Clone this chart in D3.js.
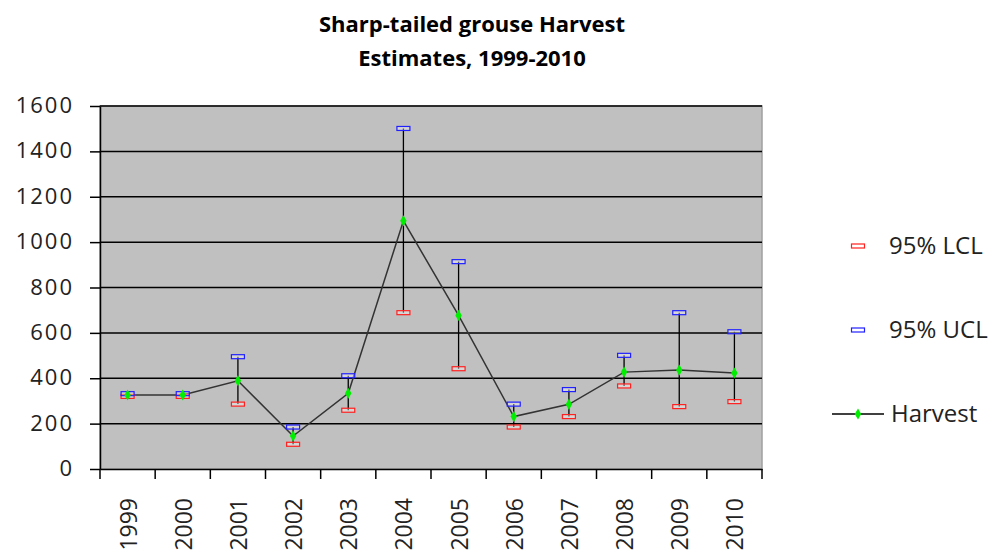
<!DOCTYPE html>
<html><head><meta charset="utf-8">
<script src="https://cdn.jsdelivr.net/npm/d3@7"></script>
<style>body{margin:0;background:#fff}text{font-family:"Open Sans","Noto Sans",sans-serif}</style>
</head><body><svg id="c" width="995" height="556"></svg>
<script>
const years = ["1999","2000","2001","2002","2003","2004","2005","2006","2007","2008","2009","2010"];
const harvest = [326,326,389,145,334,1094,677,231,285,427,436,423];
const lcl = [320,320,286,109,259,689,442,185,231,366,275,297];
const ucl = [332,332,495,185,411,1501,914,286,350,501,689,605];
const yTicks = [0,200,400,600,800,1000,1200,1400,1600];
const titleLines = ["Sharp-tailed grouse Harvest","Estimates, 1999-2010"];
const legendItems = ["95% LCL","95% UCL","Harvest"];

const svg = d3.select("#c");
const L=100,R=762,T=106,B=469;
const x = d3.scaleBand().domain(years).range([L,R]);
const y = d3.scaleLinear().domain([0,1600]).range([B,T]);

svg.append("rect").attr("x",L).attr("y",T).attr("width",R-L).attr("height",B-T).attr("fill","#c0c0c0")
  .attr("stroke","#a0a0a0").attr("stroke-width",1.5);

// gridlines
svg.append("g").selectAll("line").data(yTicks.slice(1)).join("line")
  .attr("x1",L).attr("x2",R).attr("y1",d=>y(d)).attr("y2",d=>y(d)).attr("stroke","#000").attr("stroke-width",1.5);

// y axis
const ya = svg.append("g").attr("transform",`translate(${L},0)`)
  .call(d3.axisLeft(y).tickValues(yTicks).tickFormat(d3.format("d")).tickSize(10).tickPadding(16).tickSizeOuter(0));
ya.select(".domain").attr("stroke","#000").attr("stroke-width",1.5);
ya.selectAll(".tick line").attr("stroke","#000").attr("stroke-width",1.5);
ya.selectAll("text").attr("font-size",22).attr("letter-spacing","2px").attr("fill","#222")
  .attr("font-family","'Open Sans',sans-serif").attr("dy","0.3em");

// x axis
const xa = svg.append("g").attr("transform",`translate(0,${B})`)
  .call(d3.axisBottom(x).tickSize(0).tickFormat(""));
xa.select(".domain").attr("stroke","#000").attr("stroke-width",1.5);
const bounds = years.map(d=>x(d)).concat([R]);
svg.append("g").selectAll("line").data(bounds).join("line")
  .attr("x1",d=>d).attr("x2",d=>d).attr("y1",B).attr("y2",B+10).attr("stroke","#000").attr("stroke-width",1.5);
svg.append("g").selectAll("text").data(years).join("text")
  .attr("transform",d=>`translate(${x(d)+x.bandwidth()/2+9},498) rotate(-90)`)
  .attr("text-anchor","end").attr("font-size",23).attr("font-family","'DejaVu Sans',sans-serif").attr("fill","#222").text(d=>d);

const cx = d => x(d)+x.bandwidth()/2;

// error bars
svg.append("g").selectAll("line").data(years).join("line")
  .attr("x1",cx).attr("x2",cx).attr("y1",(d,i)=>y(lcl[i])).attr("y2",(d,i)=>y(ucl[i]))
  .attr("stroke","#000").attr("stroke-width",1.3);

// harvest line
svg.append("path").datum(years).attr("fill","none").attr("stroke","#333").attr("stroke-width",1.5)
  .attr("d",d3.line().x(cx).y((d,i)=>y(harvest[i])));

function cap(g,xc,yc,color){
  g.append("rect").attr("x",xc-6.5).attr("y",yc-2).attr("width",13).attr("height",4)
   .attr("fill","#fff").attr("fill-opacity",0.35).attr("stroke",color).attr("stroke-width",1.2);
}
const caps = svg.append("g");
years.forEach((d,i)=>{cap(caps,cx(d),y(lcl[i]),"#ff2020");});
years.forEach((d,i)=>{cap(caps,cx(d),y(ucl[i]),"#2020ff");});

const diamond = d3.symbol().type(d3.symbolDiamond).size(36);
svg.append("g").selectAll("path").data(years).join("path")
  .attr("transform",(d,i)=>`translate(${cx(d)},${y(harvest[i])})`).attr("d",diamond).attr("fill","#00ee00");

// title
svg.append("g").selectAll("text").data(titleLines).join("text")
  .attr("x",472).attr("y",(d,i)=>32+i*34).attr("text-anchor","middle")
  .attr("font-size",22).attr("font-weight","bold").attr("fill","#000").text(d=>d);

// legend
const lg = svg.append("g");
const ly = [246,330,414];
cap(lg,858,ly[0],"#ff2020");
cap(lg,858,ly[1],"#2020ff");
lg.append("line").attr("x1",832).attr("x2",884).attr("y1",ly[2]).attr("y2",ly[2]).attr("stroke","#000").attr("stroke-width",1.3);
lg.append("path").attr("transform",`translate(858,${ly[2]})`).attr("d",diamond).attr("fill","#00ee00");
lg.selectAll("text").data(legendItems).join("text")
  .attr("x",(d,i)=>i<2?889:891).attr("y",(d,i)=>ly[i]+8).attr("font-size",24).attr("fill","#222").text(d=>d);
</script></body></html>
